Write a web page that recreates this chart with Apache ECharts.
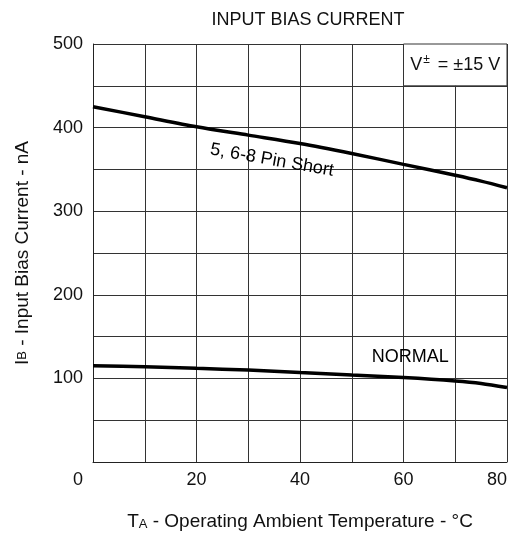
<!DOCTYPE html>
<html><head><meta charset="utf-8">
<script src="https://cdn.jsdelivr.net/npm/echarts@6/dist/echarts.min.js"></script>
<style>html,body{margin:0;padding:0;background:#fff}#c{width:522px;height:541px}</style>
</head><body><div id="c"></div>
<script>
var temps = [0, 10, 20, 30, 40, 50, 60, 70, 75, 80];
var pinShort = [425, 413, 401, 391, 381, 369, 356, 343, 336, 328];
var normal = [115, 114, 112, 110, 107, 104, 101, 97, 94, 89];
var xTicks = [0, 20, 40, 60, 80];
var yTicks = [100, 200, 300, 400, 500];
var F = 'Liberation Sans, Arial, Helvetica, sans-serif';
var C = '#111';
function pairs(xs, ys){ return xs.map(function(x,i){ return [x, ys[i]]; }); }
var chart = echarts.init(document.getElementById('c'));
chart.setOption({
  animation: false,
  title: { text: 'INPUT BIAS CURRENT', left: 303, top: 6, textAlign: 'center',
    textStyle: { fontFamily: F, fontSize: 18, fontWeight: 'normal', color: C } },
  grid: { left: 93, right: 15, top: 44, bottom: 79 },
  xAxis: {
    type: 'value', min: 0, max: 80, interval: 10,
    name: '{a|T}{b|A}{a| - Operating Ambient Temperature - °C}', nameLocation: 'middle', nameGap: 50,
    nameTextStyle: { rich: { a: { fontFamily: F, fontSize: 19, color: C }, b: { fontFamily: F, fontSize: 13, color: C, verticalAlign: 'bottom' } } },
    axisLine: { show: true, lineStyle: { color: '#222', width: 1 } },
    axisTick: { show: false },
    axisLabel: { fontFamily: F, fontSize: 18, color: C, margin: 9,
      formatter: function(v){
        if (v === 0) return '{l|0}';
        if (v === 80) return '{r|80}';
        return xTicks.indexOf(v) >= 0 ? String(v) : '';
      },
      rich: { l: { fontFamily: F, fontSize: 18, color: C, padding: [0, 30, 0, 0] },
              r: { fontFamily: F, fontSize: 18, color: C, padding: [0, 20, 0, 0] } } },
    splitLine: { show: true, lineStyle: { color: '#333', width: 1 } }
  },
  yAxis: {
    type: 'value', min: 0, max: 500, interval: 50,
    name: '{a|I}{b|B}{a| - Input Bias Current - nA}', nameLocation: 'middle', nameGap: 61,
    nameTextStyle: { rich: { a: { fontFamily: F, fontSize: 19, color: C }, b: { fontFamily: F, fontSize: 13, color: C } } },
    axisLine: { show: true, lineStyle: { color: '#222', width: 1 } },
    axisTick: { show: false },
    axisLabel: { fontFamily: F, fontSize: 18, color: C, margin: 10,
      formatter: function(v){ return yTicks.indexOf(v) >= 0 ? String(v) : ''; } },
    splitLine: { show: true, lineStyle: { color: '#333', width: 1 } }
  },
  series: [
    { type: 'line', data: pairs(temps, pinShort), smooth: 0.3, symbol: 'none',
      lineStyle: { color: '#000', width: 3.5 },
      markArea: { silent: true,
        itemStyle: { color: '#fff', borderColor: '#333', borderWidth: 1, opacity: 1 },
        label: { show: true, position: 'inside', formatter: '{a|V}{s|±}{a| = ±15 V}', textBorderWidth: 0,
          rich: { a: { fontFamily: F, fontSize: 18, color: C }, s: { fontFamily: F, fontSize: 12, color: C, verticalAlign: 'top', padding: [0,3,10,1] } } },
        data: [[{ xAxis: 60, yAxis: 450 }, { xAxis: 80, yAxis: 500 }]] } },
    { type: 'line', data: pairs(temps, normal), smooth: 0.3, symbol: 'none',
      lineStyle: { color: '#000', width: 3.5 } },
    { type: 'scatter', symbolSize: 0, silent: true, itemStyle: { opacity: 1 },
      data: [ { value: [34.6, 361], label: { formatter: '5, 6-8 Pin Short', rotate: -10 } },
              { value: [61.3, 126], label: { formatter: 'NORMAL' } } ],
      label: { show: true, position: 'inside', fontFamily: F, fontSize: 18, color: '#000', opacity: 1, textBorderWidth: 0 } }
  ]
});
</script></body></html>
